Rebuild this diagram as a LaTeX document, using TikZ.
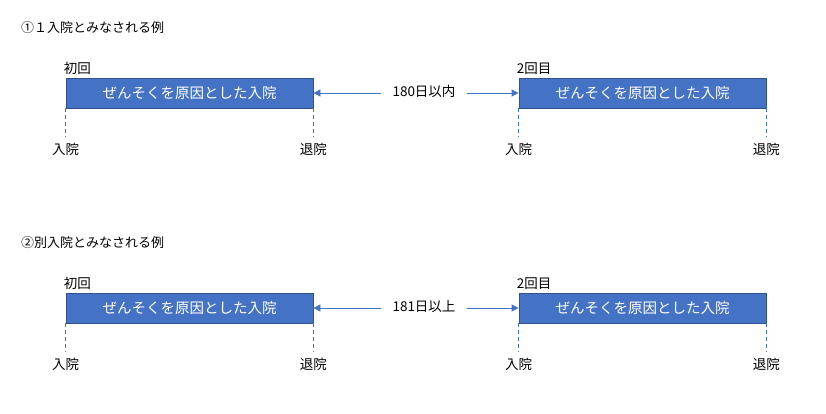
\documentclass[tikz,border=0pt]{standalone}
\usepackage{fontspec}
\setmainfont{Noto Sans CJK JP}
\usetikzlibrary{positioning,arrows.meta}
\definecolor{boxfill}{HTML}{4472C4}
\definecolor{boxline}{HTML}{2F528F}
\tikzset{
  stay/.style={draw=boxline, fill=boxfill, text=white, line width=0.8pt,
    minimum width=247pt, minimum height=30pt, inner sep=0pt,
    font=\fontsize{14.5}{14.5}\selectfont},
  heading/.style={inner sep=0pt, font=\fontsize{13}{13}\selectfont},
  small/.style={inner sep=1pt, font=\fontsize{13.5}{13.5}\selectfont},
  tick/.style={boxfill, line width=0.8pt, dash pattern=on 4pt off 3pt},
  gap/.style={boxfill, line width=0.8pt, -{Triangle[length=7pt,width=7pt]}}
}
\begin{document}
\begin{tikzpicture}[x=1pt,y=-1pt]
  \useasboundingbox[fill=white] (0,0) rectangle (826,414);
  \foreach \i/\oy/\head/\days in {1/0/①１入院とみなされる例/180日以内,
                                  2/215/②別入院とみなされる例/181日以上}{
    \node[heading, anchor=west] (head\i) at (21,28+\oy) {\head};
    % two stays
    \node[stay] (first\i) at (189.5,93+\oy) {ぜんそくを原因とした入院};
    \node[stay] (second\i) at (642.5,93+\oy) {ぜんそくを原因とした入院};
    \node[small, above right=2pt and -3pt of first\i.north west] (firstlab\i) {初回};
    \node[small, above right=2pt and -3pt of second\i.north west] (secondlab\i) {2回目};
    % interval between them
    \node[small, inner sep=11pt] (days\i) at (424,91+\oy) {\days};
    \draw[gap] (days\i.west |- first\i.east) -- (first\i.east);
    \draw[gap] (days\i.east |- second\i.west) -- (second\i.west);
    % admission / discharge ticks
    \draw[tick] (first\i.south west) -- ++(0,29) coordinate (fin\i);
    \draw[tick] (first\i.south east) -- ++(0,29) coordinate (fout\i);
    \draw[tick] (second\i.south west) -- ++(0,29) coordinate (sin\i);
    \draw[tick] (second\i.south east) -- ++(0,29) coordinate (sout\i);
    \node[small, below=5pt of fin\i] (finlab\i) {入院};
    \node[small, below=5pt of fout\i] (foutlab\i) {退院};
    \node[small, below=5pt of sin\i] (sinlab\i) {入院};
    \node[small, below=5pt of sout\i] (soutlab\i) {退院};
  }
\end{tikzpicture}
\end{document}
